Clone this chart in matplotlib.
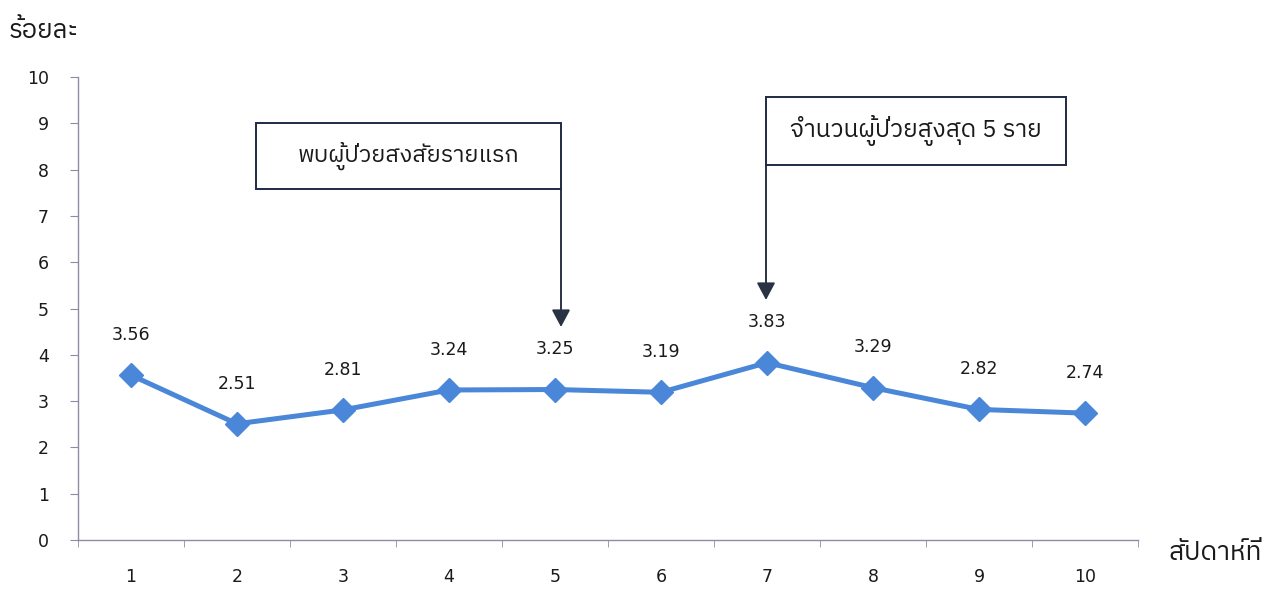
import matplotlib
matplotlib.use("Agg")
import matplotlib.pyplot as plt
from matplotlib import font_manager
from matplotlib.ft2font import FT2Font

# Find an installed family that covers Thai script
def thai_family():
    seen = []
    for f in font_manager.fontManager.ttflist:
        try:
            cmap = FT2Font(f.fname).get_charmap()
        except Exception:
            continue
        if 0x0E01 in cmap and 0x0E49 in cmap:
            seen.append(f.name)
    pref = [n for n in seen if "Sans" in n]
    return (pref or seen or ["DejaVu Sans"])[0]

THAI = thai_family()
plt.rcParams["font.family"] = [THAI, "DejaVu Sans"]

weeks = ["1", "2", "3", "4", "5", "6", "7", "8", "9", "10"]
percent = [3.56, 2.51, 2.81, 3.24, 3.25, 3.19, 3.83, 3.29, 2.82, 2.74]
y_ticks = list(range(0, 11))
y_label = "ร้อยละ"
x_label = "สัปดาห์ที่"
note_first = "พบผู้ป่วยสงสัยรายแรก"
note_peak = "จำนวนผู้ป่วยสูงสุด 5 ราย"

W, H = 1282, 591
fig = plt.figure(figsize=(W / 100, H / 100), dpi=100)
ax = fig.add_axes([78 / W, (H - 540) / H, (1138 - 78) / W, (540 - 77) / H])

xs = list(range(len(weeks)))
line_color = "#4a87d8"
ax.plot(xs, percent, color=line_color, lw=3.6, marker="D", ms=12,
        mfc=line_color, mec=line_color, zorder=3)

for x, v in zip(xs, percent):
    ax.annotate(f"{v:.2f}", (x, v), xytext=(0, 29), textcoords="offset points",
                ha="center", va="center", fontsize=12.5, color="#1a1a1a",
                family="DejaVu Sans")

ax.set_xlim(-0.5, len(weeks) - 0.5)
ax.set_ylim(0, 10)
ax.set_yticks(y_ticks)
ax.set_xticks(xs)
ax.set_xticklabels(weeks, family="DejaVu Sans", fontsize=12.5, color="#1a1a1a")
ax.set_yticklabels([str(t) for t in y_ticks], family="DejaVu Sans",
                   fontsize=12.5, color="#1a1a1a")
ax.set_xticks([i - 0.5 for i in range(len(weeks) + 1)], minor=True)

spine_c = "#8c8ca8"
for s in ["top", "right"]:
    ax.spines[s].set_visible(False)
for s in ["left", "bottom"]:
    ax.spines[s].set_color(spine_c)
    ax.spines[s].set_linewidth(1.0)
ax.tick_params(axis="y", length=6, color=spine_c, pad=15)
ax.tick_params(axis="x", which="major", length=0, pad=20)
ax.tick_params(axis="x", which="minor", length=5, color=spine_c)

fig.text(9 / W, 1 - 30 / H, y_label, fontsize=18.5, va="center", ha="left",
         color="#1a1a1a")
fig.text(1168 / W, 1 - 553 / H, x_label, fontsize=19, va="center", ha="left",
         color="#1a1a1a")

def callout(text, x0, x1, y0, y1, arrow_x, tip_y, size):
    rect = plt.Rectangle((x0 / W, 1 - y1 / H), (x1 - x0) / W, (y1 - y0) / H,
                         transform=fig.transFigure, fill=True, fc="white",
                         ec="#1f2a44", lw=1.4, zorder=5)
    fig.add_artist(rect)
    fig.text((x0 + x1) / 2 / W, 1 - (y0 + y1) / 2 / H, text, ha="center",
             va="center", fontsize=size, color="#1a1a1a", zorder=6)
    ax.annotate("", xy=(arrow_x / W, 1 - tip_y / H),
                xytext=(arrow_x / W, 1 - y1 / H),
                xycoords="figure fraction", textcoords="figure fraction",
                arrowprops=dict(arrowstyle="-|>,head_length=0.75,head_width=0.4",
                                mutation_scale=14, color="#2a3344", lw=1.4,
                                shrinkA=0, shrinkB=0),
                annotation_clip=False)

callout(note_first, 256, 561, 123, 189, 561, 327, 16.8)
callout(note_peak, 766, 1066, 97, 165, 766, 300, 17.5)

fig.savefig("out.png", dpi=100, facecolor="white")
